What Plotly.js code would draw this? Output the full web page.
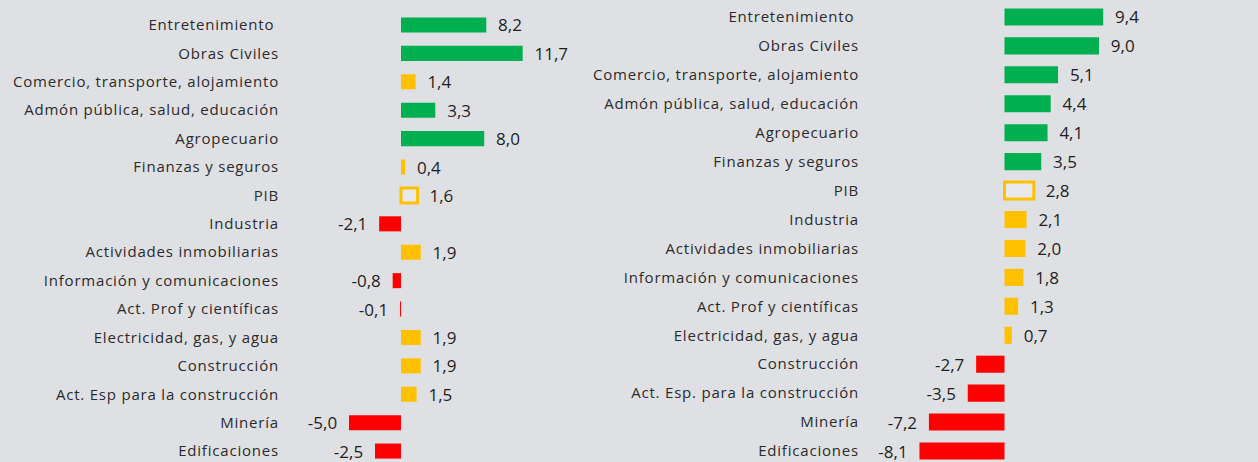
<!DOCTYPE html>
<html><head><meta charset="utf-8">
<script src="https://cdn.plot.ly/plotly-3.0.1.min.js"></script>
<style>
html,body{margin:0;padding:0;background:#dfe0e4;}
.ytick text, .y2tick text{letter-spacing:0.8px;}
</style>
</head><body><div id="chart" style="width:1258px;height:462px;"></div>
<script>
// ---- data ----
const leftCategories = ['Entretenimiento\u00a0', 'Obras Civiles', 'Comercio, transporte, alojamiento', 'Admón pública, salud, educación', 'Agropecuario', 'Finanzas y seguros', 'PIB', 'Industria', 'Actividades inmobiliarias', 'Información y comunicaciones', 'Act. Prof y científicas', 'Electricidad, gas, y agua', 'Construcción', 'Act. Esp para la construcción', 'Minería', 'Edificaciones'];
const leftValues = [8.2, 11.7, 1.4, 3.3, 8.0, 0.4, 1.6, -2.1, 1.9, -0.8, -0.1, 1.9, 1.9, 1.5, -5.0, -2.5];
const leftGroups = ['alto', 'alto', 'medio', 'alto', 'alto', 'medio', 'pib', 'bajo', 'medio', 'bajo', 'bajo', 'medio', 'medio', 'medio', 'bajo', 'bajo'];

const rightCategories = ['Entretenimiento\u00a0', 'Obras Civiles', 'Comercio, transporte, alojamiento', 'Admón pública, salud, educación', 'Agropecuario', 'Finanzas y seguros', 'PIB', 'Industria', 'Actividades inmobiliarias', 'Información y comunicaciones', 'Act. Prof y científicas', 'Electricidad, gas, y agua', 'Construcción', 'Act. Esp. para la construcción', 'Minería', 'Edificaciones'];
const rightValues = [9.4, 9.0, 5.1, 4.4, 4.1, 3.5, 2.8, 2.1, 2.0, 1.8, 1.3, 0.7, -2.7, -3.5, -7.2, -8.1];
const rightGroups = ['alto', 'alto', 'alto', 'alto', 'alto', 'alto', 'pib', 'medio', 'medio', 'medio', 'medio', 'medio', 'bajo', 'bajo', 'bajo', 'bajo'];

// ---- style ----
const groupFill = {alto: '#00b050', medio: '#ffc000', bajo: '#ff0000', pib: '#e9e9eb'};
const NB = '\u00a0';
function fmt(v) {
  const s = v.toFixed(1).replace('.', ',');
  return v >= 0 ? NB + NB + s : s + NB + NB;
}
function makeTrace(cats, vals, groups, xa, ya, w) {
  return {
    type: 'bar', orientation: 'h',
    y: cats, x: vals,
    xaxis: xa, yaxis: ya,
    width: w,
    text: vals.map(fmt),
    textposition: 'outside',
    cliponaxis: false,
    constraintext: 'none',
    textfont: {family: 'Open Sans, sans-serif', size: 17, color: '#1e1e1e'},
    marker: {
      color: groups.map(g => groupFill[g]),
      line: {
        color: groups.map(g => g === 'pib' ? '#ffc000' : 'rgba(0,0,0,0)'),
        width: groups.map(g => g === 'pib' ? 3 : 0)
      }
    },
    hoverinfo: 'skip',
    showlegend: false
  };
}

const W = 1258;
const layout = {
  width: 1258, height: 462,
  margin: {l: 0, r: 0, t: 0, b: 0},
  paper_bgcolor: '#dfe0e4', plot_bgcolor: '#dfe0e4',
  font: {family: 'Open Sans, sans-serif', size: 15, color: '#2b2b2b'},
  showlegend: false,
  xaxis: {domain: [280 / W, 570 / W], range: [(280 - 401) / 10.4, (570 - 401) / 10.4], visible: false, fixedrange: true},
  yaxis: {anchor: 'x', domain: [0, 1], type: 'category', range: [15.385, -0.88],
          showgrid: false, zeroline: false, showline: false, ticks: '',
          tickfont: {size: 15, color: '#2b2b2b'}, fixedrange: true},
  xaxis2: {domain: [860 / W, 1250 / W], range: [(860 - 1004.5) / 10.5, (1250 - 1004.5) / 10.5], visible: false, fixedrange: true},
  yaxis2: {anchor: 'x2', domain: [0, 1], type: 'category', range: [15.38, -0.586],
           showgrid: false, zeroline: false, showline: false, ticks: '',
           tickfont: {size: 15, color: '#2b2b2b'}, fixedrange: true}
};

Plotly.newPlot('chart', [
  makeTrace(leftCategories, leftValues, leftGroups, 'x', 'y', 0.53),
  makeTrace(rightCategories, rightValues, rightGroups, 'x2', 'y2', 0.59)
], layout, {displayModeBar: false, staticPlot: true});
</script>
</body></html>
